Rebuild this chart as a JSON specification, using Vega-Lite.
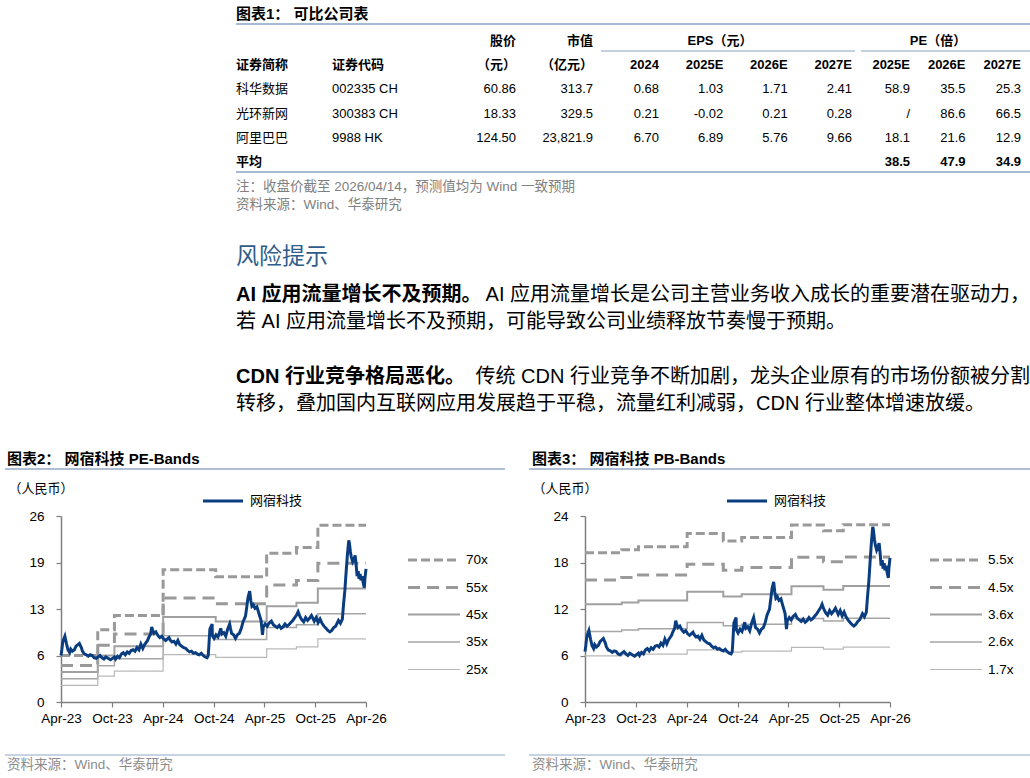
{
  "$schema": "https://vega.github.io/schema/vega-lite/v6.json",
  "background": "#ffffff",
  "padding": 0,
  "columns": 4,
  "spacing": 0,
  "bounds": "flush",
  "align": "each",
  "config": {
    "view": {"stroke": null},
    "axis": {"grid": false, "domainColor": "#7f7f7f", "domainWidth": 1.5, "tickColor": "#7f7f7f", "tickWidth": 1.2, "tickSize": 5, "labelFont": "Liberation Sans, Arial, sans-serif", "labelFontSize": 13.5, "labelColor": "#000000"},
    "legend": {"padding": 0}
  },
  "datasets": {
    "tbl": [
      {"row": "h1", "price": "股价", "mcap": "市值"},
      {"row": "h2", "name": "证券简称", "code": "证券代码", "price": "（元）", "mcap": "（亿元）", "e24": "2024", "e25": "2025E", "e26": "2026E", "e27": "2027E", "p25": "2025E", "p26": "2026E", "p27": "2027E"},
      {"row": "r1", "name": "科华数据", "code": "002335 CH", "price": "60.86", "mcap": "313.7", "e24": "0.68", "e25": "1.03", "e26": "1.71", "e27": "2.41", "p25": "58.9", "p26": "35.5", "p27": "25.3"},
      {"row": "r2", "name": "光环新网", "code": "300383 CH", "price": "18.33", "mcap": "329.5", "e24": "0.21", "e25": "-0.02", "e26": "0.21", "e27": "0.28", "p25": "/", "p26": "86.6", "p27": "66.5"},
      {"row": "r3", "name": "阿里巴巴", "code": "9988 HK", "price": "124.50", "mcap": "23,821.9", "e24": "6.70", "e25": "6.89", "e26": "5.76", "e27": "9.66", "p25": "18.1", "p26": "21.6", "p27": "12.9"},
      {"row": "avg", "name": "平均", "p25": "38.5", "p26": "47.9", "p27": "34.9"}
    ],
    "stock": [
      {"d": "2023-04-14", "p": 6.5}, {"d": "2023-04-17", "p": 7.3}, {"d": "2023-04-20", "p": 8.3}, {"d": "2023-04-24", "p": 8.8}, {"d": "2023-04-28", "p": 9.2},
      {"d": "2023-05-04", "p": 8.1}, {"d": "2023-05-09", "p": 7.3}, {"d": "2023-05-15", "p": 6.9}, {"d": "2023-05-19", "p": 7.4}, {"d": "2023-05-25", "p": 7.1},
      {"d": "2023-06-01", "p": 7.3}, {"d": "2023-06-07", "p": 7.8}, {"d": "2023-06-13", "p": 8.0}, {"d": "2023-06-19", "p": 8.2}, {"d": "2023-06-26", "p": 7.6},
      {"d": "2023-06-30", "p": 7.1}, {"d": "2023-07-07", "p": 6.7}, {"d": "2023-07-14", "p": 6.6}, {"d": "2023-07-21", "p": 6.4}, {"d": "2023-07-28", "p": 6.6},
      {"d": "2023-08-04", "p": 6.5}, {"d": "2023-08-11", "p": 6.2}, {"d": "2023-08-18", "p": 6.1}, {"d": "2023-08-25", "p": 6.3}, {"d": "2023-09-01", "p": 6.5},
      {"d": "2023-09-08", "p": 6.2}, {"d": "2023-09-15", "p": 6.0}, {"d": "2023-09-22", "p": 6.3}, {"d": "2023-10-09", "p": 5.9}, {"d": "2023-10-16", "p": 6.1},
      {"d": "2023-10-23", "p": 6.3}, {"d": "2023-10-27", "p": 6.0}, {"d": "2023-11-03", "p": 6.4}, {"d": "2023-11-10", "p": 6.2}, {"d": "2023-11-17", "p": 6.7},
      {"d": "2023-11-24", "p": 6.9}, {"d": "2023-12-01", "p": 6.6}, {"d": "2023-12-08", "p": 7.0}, {"d": "2023-12-15", "p": 6.8}, {"d": "2023-12-22", "p": 7.2},
      {"d": "2023-12-29", "p": 7.3}, {"d": "2024-01-05", "p": 7.1}, {"d": "2024-01-12", "p": 7.6}, {"d": "2024-01-19", "p": 7.3}, {"d": "2024-01-26", "p": 8.1},
      {"d": "2024-02-02", "p": 7.5}, {"d": "2024-02-08", "p": 8.0}, {"d": "2024-02-19", "p": 8.6}, {"d": "2024-02-23", "p": 9.0}, {"d": "2024-03-01", "p": 9.5},
      {"d": "2024-03-05", "p": 10.5}, {"d": "2024-03-08", "p": 10.1}, {"d": "2024-03-13", "p": 9.6}, {"d": "2024-03-20", "p": 9.8}, {"d": "2024-03-27", "p": 9.3},
      {"d": "2024-04-03", "p": 9.0}, {"d": "2024-04-10", "p": 9.2}, {"d": "2024-04-17", "p": 8.8}, {"d": "2024-04-24", "p": 8.6}, {"d": "2024-05-06", "p": 9.0},
      {"d": "2024-05-10", "p": 8.7}, {"d": "2024-05-17", "p": 8.4}, {"d": "2024-05-24", "p": 8.5}, {"d": "2024-05-31", "p": 8.1}, {"d": "2024-06-07", "p": 8.6},
      {"d": "2024-06-14", "p": 8.0}, {"d": "2024-06-21", "p": 7.8}, {"d": "2024-06-28", "p": 7.6}, {"d": "2024-07-05", "p": 7.5}, {"d": "2024-07-12", "p": 7.2},
      {"d": "2024-07-19", "p": 7.0}, {"d": "2024-07-26", "p": 7.1}, {"d": "2024-08-02", "p": 6.8}, {"d": "2024-08-09", "p": 6.9}, {"d": "2024-08-16", "p": 6.7},
      {"d": "2024-08-23", "p": 6.6}, {"d": "2024-08-30", "p": 6.8}, {"d": "2024-09-06", "p": 6.5}, {"d": "2024-09-13", "p": 6.3}, {"d": "2024-09-20", "p": 6.2},
      {"d": "2024-09-24", "p": 6.5}, {"d": "2024-09-26", "p": 7.6}, {"d": "2024-09-30", "p": 10.2}, {"d": "2024-10-08", "p": 10.9}, {"d": "2024-10-09", "p": 9.3},
      {"d": "2024-10-15", "p": 8.9}, {"d": "2024-10-22", "p": 9.4}, {"d": "2024-10-29", "p": 9.1}, {"d": "2024-11-05", "p": 9.9}, {"d": "2024-11-08", "p": 10.3},
      {"d": "2024-11-12", "p": 9.5}, {"d": "2024-11-19", "p": 9.7}, {"d": "2024-11-26", "p": 9.2}, {"d": "2024-12-03", "p": 10.2}, {"d": "2024-12-10", "p": 10.9},
      {"d": "2024-12-13", "p": 10.3}, {"d": "2024-12-17", "p": 9.6}, {"d": "2024-12-24", "p": 9.4}, {"d": "2024-12-31", "p": 8.9}, {"d": "2025-01-07", "p": 9.4},
      {"d": "2025-01-14", "p": 9.6}, {"d": "2025-01-21", "p": 10.3}, {"d": "2025-01-27", "p": 11.2}, {"d": "2025-02-05", "p": 12.0}, {"d": "2025-02-10", "p": 13.4},
      {"d": "2025-02-14", "p": 14.6}, {"d": "2025-02-20", "p": 15.5}, {"d": "2025-02-24", "p": 14.2}, {"d": "2025-02-28", "p": 13.4}, {"d": "2025-03-05", "p": 13.6},
      {"d": "2025-03-11", "p": 13.1}, {"d": "2025-03-18", "p": 13.3}, {"d": "2025-03-25", "p": 12.4}, {"d": "2025-04-02", "p": 11.4}, {"d": "2025-04-07", "p": 9.4},
      {"d": "2025-04-10", "p": 10.5}, {"d": "2025-04-17", "p": 10.9}, {"d": "2025-04-24", "p": 10.6}, {"d": "2025-04-30", "p": 11.0}, {"d": "2025-05-09", "p": 11.3},
      {"d": "2025-05-16", "p": 10.8}, {"d": "2025-05-23", "p": 10.6}, {"d": "2025-05-30", "p": 10.4}, {"d": "2025-06-06", "p": 10.7}, {"d": "2025-06-13", "p": 10.3},
      {"d": "2025-06-20", "p": 10.5}, {"d": "2025-06-27", "p": 10.9}, {"d": "2025-07-04", "p": 10.6}, {"d": "2025-07-11", "p": 10.8}, {"d": "2025-07-18", "p": 11.1},
      {"d": "2025-07-25", "p": 11.4}, {"d": "2025-08-01", "p": 11.8}, {"d": "2025-08-08", "p": 12.2}, {"d": "2025-08-13", "p": 12.6}, {"d": "2025-08-19", "p": 12.0},
      {"d": "2025-08-26", "p": 11.5}, {"d": "2025-09-02", "p": 11.2}, {"d": "2025-09-09", "p": 11.8}, {"d": "2025-09-16", "p": 11.4}, {"d": "2025-09-23", "p": 11.7},
      {"d": "2025-09-30", "p": 12.1}, {"d": "2025-10-10", "p": 11.3}, {"d": "2025-10-17", "p": 11.8}, {"d": "2025-10-24", "p": 11.1}, {"d": "2025-10-31", "p": 11.6},
      {"d": "2025-11-07", "p": 11.0}, {"d": "2025-11-14", "p": 10.6}, {"d": "2025-11-21", "p": 10.3}, {"d": "2025-11-28", "p": 10.0}, {"d": "2025-12-05", "p": 9.8},
      {"d": "2025-12-12", "p": 10.0}, {"d": "2025-12-19", "p": 10.4}, {"d": "2025-12-26", "p": 10.6}, {"d": "2026-01-05", "p": 11.4}, {"d": "2026-01-12", "p": 11.0},
      {"d": "2026-01-19", "p": 11.6}, {"d": "2026-01-23", "p": 13.5}, {"d": "2026-01-28", "p": 15.6}, {"d": "2026-02-02", "p": 18.4}, {"d": "2026-02-06", "p": 20.5},
      {"d": "2026-02-11", "p": 22.6}, {"d": "2026-02-13", "p": 22.3}, {"d": "2026-02-17", "p": 21.0}, {"d": "2026-02-20", "p": 20.3}, {"d": "2026-02-25", "p": 19.6},
      {"d": "2026-03-02", "p": 20.0}, {"d": "2026-03-06", "p": 20.5}, {"d": "2026-03-10", "p": 19.0}, {"d": "2026-03-13", "p": 17.6}, {"d": "2026-03-17", "p": 18.3},
      {"d": "2026-03-20", "p": 17.2}, {"d": "2026-03-24", "p": 17.9}, {"d": "2026-03-27", "p": 17.0}, {"d": "2026-03-31", "p": 17.6}, {"d": "2026-04-03", "p": 16.8},
      {"d": "2026-04-08", "p": 16.0}, {"d": "2026-04-10", "p": 17.2}, {"d": "2026-04-14", "p": 18.6}
    ],
    "pe": [
      {"d": "2023-04-14", "b": "70x", "v": 6.5}, {"d": "2023-04-14", "b": "55x", "v": 5.11}, {"d": "2023-04-14", "b": "45x", "v": 4.18}, {"d": "2023-04-14", "b": "35x", "v": 3.25}, {"d": "2023-04-14", "b": "25x", "v": 2.32},
      {"d": "2023-08-24", "b": "70x", "v": 10.1}, {"d": "2023-08-24", "b": "55x", "v": 7.94}, {"d": "2023-08-24", "b": "45x", "v": 6.49}, {"d": "2023-08-24", "b": "35x", "v": 5.05}, {"d": "2023-08-24", "b": "25x", "v": 3.61},
      {"d": "2023-10-23", "b": "70x", "v": 12.1}, {"d": "2023-10-23", "b": "55x", "v": 9.51}, {"d": "2023-10-23", "b": "45x", "v": 7.78}, {"d": "2023-10-23", "b": "35x", "v": 6.05}, {"d": "2023-10-23", "b": "25x", "v": 4.32},
      {"d": "2024-04-15", "b": "70x", "v": 18.5}, {"d": "2024-04-15", "b": "55x", "v": 14.54}, {"d": "2024-04-15", "b": "45x", "v": 11.89}, {"d": "2024-04-15", "b": "35x", "v": 9.25}, {"d": "2024-04-15", "b": "25x", "v": 6.61},
      {"d": "2024-10-21", "b": "70x", "v": 17.5}, {"d": "2024-10-21", "b": "55x", "v": 13.75}, {"d": "2024-10-21", "b": "45x", "v": 11.25}, {"d": "2024-10-21", "b": "35x", "v": 8.75}, {"d": "2024-10-21", "b": "25x", "v": 6.25},
      {"d": "2025-04-22", "b": "70x", "v": 20.8}, {"d": "2025-04-22", "b": "55x", "v": 16.34}, {"d": "2025-04-22", "b": "45x", "v": 13.37}, {"d": "2025-04-22", "b": "35x", "v": 10.4}, {"d": "2025-04-22", "b": "25x", "v": 7.43},
      {"d": "2025-08-07", "b": "70x", "v": 21.6}, {"d": "2025-08-07", "b": "55x", "v": 16.97}, {"d": "2025-08-07", "b": "45x", "v": 13.89}, {"d": "2025-08-07", "b": "35x", "v": 10.8}, {"d": "2025-08-07", "b": "25x", "v": 7.71},
      {"d": "2025-10-23", "b": "70x", "v": 24.7}, {"d": "2025-10-23", "b": "55x", "v": 19.41}, {"d": "2025-10-23", "b": "45x", "v": 15.88}, {"d": "2025-10-23", "b": "35x", "v": 12.35}, {"d": "2025-10-23", "b": "25x", "v": 8.82},
      {"d": "2026-04-14", "b": "70x", "v": 24.7}, {"d": "2026-04-14", "b": "55x", "v": 19.41}, {"d": "2026-04-14", "b": "45x", "v": 15.88}, {"d": "2026-04-14", "b": "35x", "v": 12.35}, {"d": "2026-04-14", "b": "25x", "v": 8.82}
    ],
    "pb": [
      {"d": "2023-04-14", "b": "5.5x", "v": 19.25}, {"d": "2023-04-14", "b": "4.5x", "v": 15.75}, {"d": "2023-04-14", "b": "3.6x", "v": 12.6}, {"d": "2023-04-14", "b": "2.6x", "v": 9.1}, {"d": "2023-04-14", "b": "1.7x", "v": 5.95},
      {"d": "2023-08-24", "b": "5.5x", "v": 19.64}, {"d": "2023-08-24", "b": "4.5x", "v": 16.07}, {"d": "2023-08-24", "b": "3.6x", "v": 12.85}, {"d": "2023-08-24", "b": "2.6x", "v": 9.28}, {"d": "2023-08-24", "b": "1.7x", "v": 6.07},
      {"d": "2023-10-23", "b": "5.5x", "v": 20.02}, {"d": "2023-10-23", "b": "4.5x", "v": 16.38}, {"d": "2023-10-23", "b": "3.6x", "v": 13.1}, {"d": "2023-10-23", "b": "2.6x", "v": 9.46}, {"d": "2023-10-23", "b": "1.7x", "v": 6.19},
      {"d": "2024-04-15", "b": "5.5x", "v": 21.73}, {"d": "2024-04-15", "b": "4.5x", "v": 17.78}, {"d": "2024-04-15", "b": "3.6x", "v": 14.22}, {"d": "2024-04-15", "b": "2.6x", "v": 10.27}, {"d": "2024-04-15", "b": "1.7x", "v": 6.72},
      {"d": "2024-08-23", "b": "5.5x", "v": 20.79}, {"d": "2024-08-23", "b": "4.5x", "v": 17.01}, {"d": "2024-08-23", "b": "3.6x", "v": 13.61}, {"d": "2024-08-23", "b": "2.6x", "v": 9.83}, {"d": "2024-08-23", "b": "1.7x", "v": 6.43},
      {"d": "2024-10-28", "b": "5.5x", "v": 21.23}, {"d": "2024-10-28", "b": "4.5x", "v": 17.37}, {"d": "2024-10-28", "b": "3.6x", "v": 13.9}, {"d": "2024-10-28", "b": "2.6x", "v": 10.04}, {"d": "2024-10-28", "b": "1.7x", "v": 6.56},
      {"d": "2025-04-25", "b": "5.5x", "v": 22.83}, {"d": "2025-04-25", "b": "4.5x", "v": 18.68}, {"d": "2025-04-25", "b": "3.6x", "v": 14.94}, {"d": "2025-04-25", "b": "2.6x", "v": 10.79}, {"d": "2025-04-25", "b": "1.7x", "v": 7.06},
      {"d": "2025-08-18", "b": "5.5x", "v": 22.11}, {"d": "2025-08-18", "b": "4.5x", "v": 18.09}, {"d": "2025-08-18", "b": "3.6x", "v": 14.47}, {"d": "2025-08-18", "b": "2.6x", "v": 10.45}, {"d": "2025-08-18", "b": "1.7x", "v": 6.83},
      {"d": "2025-10-28", "b": "5.5x", "v": 22.88}, {"d": "2025-10-28", "b": "4.5x", "v": 18.72}, {"d": "2025-10-28", "b": "3.6x", "v": 14.98}, {"d": "2025-10-28", "b": "2.6x", "v": 10.82}, {"d": "2025-10-28", "b": "1.7x", "v": 7.07},
      {"d": "2026-04-14", "b": "5.5x", "v": 22.88}, {"d": "2026-04-14", "b": "4.5x", "v": 18.72}, {"d": "2026-04-14", "b": "3.6x", "v": 14.98}, {"d": "2026-04-14", "b": "2.6x", "v": 10.82}, {"d": "2026-04-14", "b": "1.7x", "v": 7.07}
    ]
  },
  "concat": [
    {"width": 61, "height": 448, "data": {"values": []}, "mark": "point"},
    {"width": 175, "height": 448, "data": {"values": []}, "mark": "point"},
    {
      "width": 349,
      "height": 448,
      "resolve": {"scale": {"x": "independent", "y": "independent"}},
      "layer": [
        {
          "data": {"values": [{"id": "t", "t": "图表1：  可比公司表"}]},
          "mark": {"type": "text", "align": "left", "baseline": "middle", "font": "Liberation Sans, Noto Sans CJK SC, sans-serif", "fontSize": 15, "fontWeight": "bold", "color": "#000000"},
          "encoding": {
            "text": {"field": "t", "type": "nominal"},
            "x": {"datum": 0, "type": "quantitative", "scale": {"domain": [0, 1], "range": [0, 794]}, "axis": null},
            "y": {"field": "id", "type": "nominal", "scale": {"type": "point", "range": [14, 14], "padding": 0}, "axis": null}
          }
        },
        {
          "data": {"values": [{"id": "a"}, {"id": "b"}]},
          "mark": {"type": "rule", "color": "#8AA3C4", "strokeWidth": 1.5},
          "encoding": {
            "x": {"datum": 0, "type": "quantitative", "scale": {"domain": [0, 1], "range": [0, 794]}, "axis": null},
            "x2": {"datum": 1},
            "y": {"field": "id", "type": "nominal", "scale": {"type": "point", "domain": ["a", "b"], "range": [24, 172], "padding": 0}, "axis": null}
          }
        },
        {
          "data": {"values": [{"id": "u"}]},
          "mark": {"type": "rule", "color": "#8AA3C4", "strokeWidth": 1.2},
          "encoding": {
            "x": {"datum": 0, "type": "quantitative", "scale": {"domain": [0, 1], "range": [365, 619]}, "axis": null},
            "x2": {"datum": 1},
            "y": {"field": "id", "type": "nominal", "scale": {"type": "point", "range": [51, 51], "padding": 0}, "axis": null}
          }
        },
        {
          "data": {"values": [{"id": "u"}]},
          "mark": {"type": "rule", "color": "#8AA3C4", "strokeWidth": 1.2},
          "encoding": {
            "x": {"datum": 0, "type": "quantitative", "scale": {"domain": [0, 1], "range": [625, 794]}, "axis": null},
            "x2": {"datum": 1},
            "y": {"field": "id", "type": "nominal", "scale": {"type": "point", "range": [51, 51], "padding": 0}, "axis": null}
          }
        },
        {
          "data": {"values": [{"g": "EPS（元）"}, {"g": "PE（倍）"}]},
          "mark": {"type": "text", "align": "center", "baseline": "middle", "font": "Liberation Sans, Noto Sans CJK SC, sans-serif", "fontSize": 13, "fontWeight": "bold", "color": "#000000"},
          "encoding": {
            "text": {"field": "g", "type": "nominal"},
            "x": {"field": "g", "type": "nominal", "scale": {"type": "point", "domain": ["EPS（元）", "PE（倍）"], "range": [484, 702], "padding": 0}, "axis": null},
            "y": {"datum": "h1", "type": "nominal", "scale": {"type": "point", "domain": ["h1"], "range": [41, 41], "padding": 0}, "axis": null}
          }
        },
        {
          "data": {"name": "tbl"},
          "transform": [{"fold": ["name", "code"], "as": ["col", "val"]}, {"filter": "isValid(datum.val)"}],
          "encoding": {
            "x": {"field": "col", "type": "nominal", "scale": {"type": "point", "domain": ["name", "code"], "range": [0, 96], "padding": 0}, "axis": null},
            "y": {"field": "row", "type": "nominal", "scale": {"type": "point", "domain": ["h1", "h2", "r1", "r2", "r3", "avg"], "range": [41, 162], "padding": 0}, "axis": null},
            "text": {"field": "val", "type": "nominal"}
          },
          "layer": [
            {"transform": [{"filter": {"field": "row", "oneOf": ["h1", "h2", "avg"]}}], "mark": {"type": "text", "align": "left", "baseline": "middle", "font": "Liberation Sans, Noto Sans CJK SC, sans-serif", "fontSize": 13, "fontWeight": "bold", "color": "#000000"}},
            {"transform": [{"filter": {"field": "row", "oneOf": ["r1", "r2", "r3"]}}], "mark": {"type": "text", "align": "left", "baseline": "middle", "font": "Liberation Sans, Noto Sans CJK SC, sans-serif", "fontSize": 13, "color": "#000000"}}
          ]
        },
        {
          "data": {"name": "tbl"},
          "transform": [{"fold": ["price", "mcap"], "as": ["col", "val"]}, {"filter": "isValid(datum.val)"}],
          "encoding": {
            "x": {"field": "col", "type": "nominal", "scale": {"type": "point", "domain": ["price", "mcap"], "range": [280, 357], "padding": 0}, "axis": null},
            "y": {"field": "row", "type": "nominal", "scale": {"type": "point", "domain": ["h1", "h2", "r1", "r2", "r3", "avg"], "range": [41, 162], "padding": 0}, "axis": null},
            "text": {"field": "val", "type": "nominal"}
          },
          "layer": [
            {"transform": [{"filter": {"field": "row", "oneOf": ["h1", "h2", "avg"]}}], "mark": {"type": "text", "align": "right", "baseline": "middle", "font": "Liberation Sans, Noto Sans CJK SC, sans-serif", "fontSize": 13, "fontWeight": "bold", "color": "#000000"}},
            {"transform": [{"filter": {"field": "row", "oneOf": ["r1", "r2", "r3"]}}], "mark": {"type": "text", "align": "right", "baseline": "middle", "font": "Liberation Sans, Noto Sans CJK SC, sans-serif", "fontSize": 13, "color": "#000000"}}
          ]
        },
        {
          "data": {"name": "tbl"},
          "transform": [{"fold": ["e24", "e25", "e26", "e27"], "as": ["col", "val"]}, {"filter": "isValid(datum.val)"}],
          "encoding": {
            "x": {"field": "col", "type": "nominal", "scale": {"type": "point", "domain": ["e24", "e25", "e26", "e27"], "range": [423, 616], "padding": 0}, "axis": null},
            "y": {"field": "row", "type": "nominal", "scale": {"type": "point", "domain": ["h1", "h2", "r1", "r2", "r3", "avg"], "range": [41, 162], "padding": 0}, "axis": null},
            "text": {"field": "val", "type": "nominal"}
          },
          "layer": [
            {"transform": [{"filter": {"field": "row", "oneOf": ["h1", "h2", "avg"]}}], "mark": {"type": "text", "align": "right", "baseline": "middle", "font": "Liberation Sans, Noto Sans CJK SC, sans-serif", "fontSize": 13, "fontWeight": "bold", "color": "#000000"}},
            {"transform": [{"filter": {"field": "row", "oneOf": ["r1", "r2", "r3"]}}], "mark": {"type": "text", "align": "right", "baseline": "middle", "font": "Liberation Sans, Noto Sans CJK SC, sans-serif", "fontSize": 13, "color": "#000000"}}
          ]
        },
        {
          "data": {"name": "tbl"},
          "transform": [{"fold": ["p25", "p26", "p27"], "as": ["col", "val"]}, {"filter": "isValid(datum.val)"}],
          "encoding": {
            "x": {"field": "col", "type": "nominal", "scale": {"type": "point", "domain": ["p25", "p26", "p27"], "range": [674, 785], "padding": 0}, "axis": null},
            "y": {"field": "row", "type": "nominal", "scale": {"type": "point", "domain": ["h1", "h2", "r1", "r2", "r3", "avg"], "range": [41, 162], "padding": 0}, "axis": null},
            "text": {"field": "val", "type": "nominal"}
          },
          "layer": [
            {"transform": [{"filter": {"field": "row", "oneOf": ["h1", "h2", "avg"]}}], "mark": {"type": "text", "align": "right", "baseline": "middle", "font": "Liberation Sans, Noto Sans CJK SC, sans-serif", "fontSize": 13, "fontWeight": "bold", "color": "#000000"}},
            {"transform": [{"filter": {"field": "row", "oneOf": ["r1", "r2", "r3"]}}], "mark": {"type": "text", "align": "right", "baseline": "middle", "font": "Liberation Sans, Noto Sans CJK SC, sans-serif", "fontSize": 13, "color": "#000000"}}
          ]
        },
        {
          "data": {"values": [{"id": "n1", "t": "注：收盘价截至 2026/04/14，预测值均为 Wind 一致预期"}, {"id": "n2", "t": "资料来源：Wind、华泰研究"}]},
          "mark": {"type": "text", "align": "left", "baseline": "middle", "font": "Liberation Sans, Noto Sans CJK SC, sans-serif", "fontSize": 13.5, "color": "#808080"},
          "encoding": {
            "text": {"field": "t", "type": "nominal"},
            "x": {"datum": 0, "type": "quantitative", "scale": {"domain": [0, 1], "range": [0, 794]}, "axis": null},
            "y": {"field": "id", "type": "nominal", "scale": {"type": "point", "domain": ["n1", "n2"], "range": [187, 205], "padding": 0}, "axis": null}
          }
        },
        {
          "data": {"values": [{"id": "h", "t": "风险提示"}]},
          "mark": {"type": "text", "align": "left", "baseline": "middle", "font": "Noto Sans CJK SC, sans-serif", "fontSize": 23, "color": "#2F5C8A"},
          "encoding": {
            "text": {"field": "t", "type": "nominal"},
            "x": {"datum": 0, "type": "quantitative", "scale": {"domain": [0, 1], "range": [0, 794]}, "axis": null},
            "y": {"field": "id", "type": "nominal", "scale": {"type": "point", "range": [257, 257], "padding": 0}, "axis": null}
          }
        },
        {
          "data": {"values": [{"id": "p1", "t": "AI 应用流量增长不及预期。"}, {"id": "p3", "t": "CDN 行业竞争格局恶化。"}]},
          "mark": {"type": "text", "align": "left", "baseline": "middle", "font": "Liberation Sans, Noto Sans CJK SC, sans-serif", "fontSize": 20, "fontWeight": "bold", "color": "#000000"},
          "encoding": {
            "text": {"field": "t", "type": "nominal"},
            "x": {"datum": 0, "type": "quantitative", "scale": {"domain": [0, 1], "range": [0, 794]}, "axis": null},
            "y": {"field": "id", "type": "nominal", "scale": {"type": "point", "domain": ["p1", "p3"], "range": [295, 377], "padding": 0}, "axis": null}
          }
        },
        {
          "data": {"values": [{"id": "p1", "t": "AI 应用流量增长是公司主营业务收入成长的重要潜在驱动力，"}, {"id": "p3", "t": "传统 CDN 行业竞争不断加剧，龙头企业原有的市场份额被分割"}]},
          "mark": {"type": "text", "align": "right", "baseline": "middle", "font": "Liberation Sans, Noto Sans CJK SC, sans-serif", "fontSize": 20, "color": "#000000"},
          "encoding": {
            "text": {"field": "t", "type": "nominal"},
            "x": {"datum": 1, "type": "quantitative", "scale": {"domain": [0, 1], "range": [0, 794]}, "axis": null},
            "y": {"field": "id", "type": "nominal", "scale": {"type": "point", "domain": ["p1", "p3"], "range": [295, 377], "padding": 0}, "axis": null}
          }
        },
        {
          "data": {"values": [{"id": "p2", "t": "若 AI 应用流量增长不及预期，可能导致公司业绩释放节奏慢于预期。"}, {"id": "p4", "t": "转移，叠加国内互联网应用发展趋于平稳，流量红利减弱，CDN 行业整体增速放缓。"}]},
          "mark": {"type": "text", "align": "left", "baseline": "middle", "font": "Liberation Sans, Noto Sans CJK SC, sans-serif", "fontSize": 20, "color": "#000000"},
          "encoding": {
            "text": {"field": "t", "type": "nominal"},
            "x": {"datum": 0, "type": "quantitative", "scale": {"domain": [0, 1], "range": [0, 794]}, "axis": null},
            "y": {"field": "id", "type": "nominal", "scale": {"type": "point", "domain": ["p2", "p4"], "range": [322, 404], "padding": 0}, "axis": null}
          }
        }
      ]
    },
    {"width": 445, "height": 448, "data": {"values": []}, "mark": "point"},

    {"width": 61, "height": 68, "data": {"values": []}, "mark": "point"},
    {
      "width": 175,
      "height": 68,
      "layer": [
        {
          "data": {"values": [{"k": "r"}]},
          "mark": {"type": "rule", "color": "#AFC0D6", "strokeWidth": 2},
          "encoding": {
            "x": {"datum": 0, "type": "quantitative", "scale": {"domain": [0, 1], "range": [-56, 444]}, "axis": null},
            "x2": {"datum": 1},
            "y": {"field": "k", "type": "nominal", "scale": {"type": "point", "domain": ["t", "r"], "range": [11, 21], "padding": 0}, "axis": null}
          }
        },
        {
          "data": {"values": [{"k": "t", "s": "图表2：  网宿科技 PE-Bands"}]},
          "mark": {"type": "text", "align": "left", "baseline": "middle", "dx": 2, "font": "Liberation Sans, Noto Sans CJK SC, sans-serif", "fontSize": 15, "fontWeight": "bold", "color": "#000000"},
          "encoding": {
            "x": {"datum": 0, "type": "quantitative"},
            "y": {"field": "k", "type": "nominal"},
            "text": {"field": "s", "type": "nominal"}
          }
        }
      ]
    },
    {"width": 349, "height": 68, "data": {"values": []}, "mark": "point"},
    {
      "width": 445,
      "height": 68,
      "layer": [
        {
          "data": {"values": [{"k": "r"}]},
          "mark": {"type": "rule", "color": "#AFC0D6", "strokeWidth": 2},
          "encoding": {
            "x": {"datum": 0, "type": "quantitative", "scale": {"domain": [0, 1], "range": [-56, 445]}, "axis": null},
            "x2": {"datum": 1},
            "y": {"field": "k", "type": "nominal", "scale": {"type": "point", "domain": ["t", "r"], "range": [11, 21], "padding": 0}, "axis": null}
          }
        },
        {
          "data": {"values": [{"k": "t", "s": "图表3：  网宿科技 PB-Bands"}]},
          "mark": {"type": "text", "align": "left", "baseline": "middle", "dx": 3, "font": "Liberation Sans, Noto Sans CJK SC, sans-serif", "fontSize": 15, "fontWeight": "bold", "color": "#000000"},
          "encoding": {
            "x": {"datum": 0, "type": "quantitative"},
            "y": {"field": "k", "type": "nominal"},
            "text": {"field": "s", "type": "nominal"}
          }
        }
      ]
    },

    {"width": 61, "height": 186, "data": {"values": []}, "mark": "point"},
    {
      "width": 175,
      "height": 186,
      "resolve": {"scale": {"color": "independent", "strokeDash": "independent", "strokeWidth": "independent"}},
      "layer": [
        {
          "data": {"name": "pe"},
          "mark": {"type": "line", "interpolate": "step-after"},
          "encoding": {
            "x": {"field": "d", "type": "temporal", "scale": {"type": "utc", "nice": false, "range": [0, 305], "domain": [{"year": 2023, "month": 4, "date": 14, "utc": true}, {"year": 2026, "month": 4, "date": 14, "utc": true}]},
              "axis": {"title": null, "format": "%b-%y", "tickCount": 20, "labelFlush": false, "labelOverlap": false, "labelPadding": 4,
                "values": [{"year": 2023, "month": 4, "date": 14, "utc": true}, {"year": 2023, "month": 10, "date": 14, "utc": true}, {"year": 2024, "month": 4, "date": 14, "utc": true}, {"year": 2024, "month": 10, "date": 14, "utc": true}, {"year": 2025, "month": 4, "date": 14, "utc": true}, {"year": 2025, "month": 10, "date": 14, "utc": true}, {"year": 2026, "month": 4, "date": 14, "utc": true}]}},
            "y": {"field": "v", "type": "quantitative", "scale": {"domain": [0, 26], "nice": false},
              "axis": {"values": [0, 6.5, 13, 19.5, 26], "tickCount": 20, "labelExpr": "floor(datum.value)", "labelPadding": 12, "title": "（人民币）", "titleAngle": 0, "titleAlign": "left", "titleBaseline": "middle", "titleX": -53, "titleY": -28, "titleFont": "Liberation Sans, Noto Sans CJK SC, sans-serif", "titleFontSize": 13, "titleFontWeight": "normal", "titleColor": "#000000"}},
            "color": {"field": "b", "type": "nominal", "scale": {"domain": ["70x", "55x", "45x", "35x", "25x"], "range": ["#999999", "#999999", "#a0a0a0", "#a6a6a6", "#b8b8b8"]},
              "legend": {"orient": "none", "legendX": 361.5, "legendY": 32.5, "title": null, "direction": "vertical", "symbolType": "M-2.6,0H2.6", "symbolSize": 400, "labelOffset": 20.5, "rowPadding": 9.5, "labelFont": "Liberation Sans, Arial, sans-serif", "labelFontSize": 13.5, "labelColor": "#000000", "padding": 0}},
            "strokeDash": {"field": "b", "type": "nominal", "scale": {"domain": ["70x", "55x", "45x", "35x", "25x"], "range": [[9, 4], [12, 7], [1, 0], [1, 0], [1, 0]]},
              "legend": {"orient": "none", "legendX": 361.5, "legendY": 32.5, "title": null, "direction": "vertical", "symbolType": "M-2.6,0H2.6", "symbolSize": 400, "labelOffset": 20.5, "rowPadding": 9.5, "labelFont": "Liberation Sans, Arial, sans-serif", "labelFontSize": 13.5, "labelColor": "#000000", "padding": 0}},
            "strokeWidth": {"field": "b", "type": "nominal", "scale": {"type": "ordinal", "domain": ["70x", "55x", "45x", "35x", "25x"], "range": [3, 3, 2, 1.5, 1.2]},
              "legend": {"orient": "none", "legendX": 361.5, "legendY": 32.5, "title": null, "direction": "vertical", "symbolType": "M-2.6,0H2.6", "symbolSize": 400, "labelOffset": 20.5, "rowPadding": 9.5, "labelFont": "Liberation Sans, Arial, sans-serif", "labelFontSize": 13.5, "labelColor": "#000000", "padding": 0}}
          }
        },
        {
          "data": {"name": "stock"},
          "mark": {"type": "line", "strokeWidth": 3},
          "encoding": {
            "x": {"field": "d", "type": "temporal"},
            "y": {"field": "p", "type": "quantitative"},
            "color": {"datum": "网宿科技", "type": "nominal", "scale": {"domain": ["网宿科技"], "range": ["#0A3D80"]},
              "legend": {"orient": "none", "legendX": 150.5, "legendY": -26.5, "title": null, "symbolType": "M-2,0H2", "symbolSize": 400, "symbolStrokeWidth": 3, "labelOffset": 15.5, "labelFont": "Noto Sans CJK SC, sans-serif", "labelFontSize": 13, "labelColor": "#000000", "padding": 0}}
          }
        }
      ]
    },
    {"width": 349, "height": 186, "data": {"values": []}, "mark": "point"},
    {
      "width": 445,
      "height": 186,
      "resolve": {"scale": {"color": "independent", "strokeDash": "independent", "strokeWidth": "independent"}},
      "layer": [
        {
          "data": {"name": "pb"},
          "mark": {"type": "line", "interpolate": "step-after"},
          "encoding": {
            "x": {"field": "d", "type": "temporal", "scale": {"type": "utc", "nice": false, "range": [0, 305], "domain": [{"year": 2023, "month": 4, "date": 14, "utc": true}, {"year": 2026, "month": 4, "date": 14, "utc": true}]},
              "axis": {"title": null, "format": "%b-%y", "tickCount": 20, "labelFlush": false, "labelOverlap": false, "labelPadding": 4,
                "values": [{"year": 2023, "month": 4, "date": 14, "utc": true}, {"year": 2023, "month": 10, "date": 14, "utc": true}, {"year": 2024, "month": 4, "date": 14, "utc": true}, {"year": 2024, "month": 10, "date": 14, "utc": true}, {"year": 2025, "month": 4, "date": 14, "utc": true}, {"year": 2025, "month": 10, "date": 14, "utc": true}, {"year": 2026, "month": 4, "date": 14, "utc": true}]}},
            "y": {"field": "v", "type": "quantitative", "scale": {"domain": [0, 24], "nice": false},
              "axis": {"values": [0, 6, 12, 18, 24], "tickCount": 20, "labelPadding": 12, "title": "（人民币）", "titleAngle": 0, "titleAlign": "left", "titleBaseline": "middle", "titleX": -53, "titleY": -28, "titleFont": "Liberation Sans, Noto Sans CJK SC, sans-serif", "titleFontSize": 13, "titleFontWeight": "normal", "titleColor": "#000000"}},
            "color": {"field": "b", "type": "nominal", "scale": {"domain": ["5.5x", "4.5x", "3.6x", "2.6x", "1.7x"], "range": ["#999999", "#999999", "#a0a0a0", "#a6a6a6", "#b8b8b8"]},
              "legend": {"orient": "none", "legendX": 359.5, "legendY": 32.5, "title": null, "direction": "vertical", "symbolType": "M-2.6,0H2.6", "symbolSize": 400, "labelOffset": 20.5, "rowPadding": 9.5, "labelFont": "Liberation Sans, Arial, sans-serif", "labelFontSize": 13.5, "labelColor": "#000000", "padding": 0}},
            "strokeDash": {"field": "b", "type": "nominal", "scale": {"domain": ["5.5x", "4.5x", "3.6x", "2.6x", "1.7x"], "range": [[9, 4], [12, 7], [1, 0], [1, 0], [1, 0]]},
              "legend": {"orient": "none", "legendX": 359.5, "legendY": 32.5, "title": null, "direction": "vertical", "symbolType": "M-2.6,0H2.6", "symbolSize": 400, "labelOffset": 20.5, "rowPadding": 9.5, "labelFont": "Liberation Sans, Arial, sans-serif", "labelFontSize": 13.5, "labelColor": "#000000", "padding": 0}},
            "strokeWidth": {"field": "b", "type": "nominal", "scale": {"type": "ordinal", "domain": ["5.5x", "4.5x", "3.6x", "2.6x", "1.7x"], "range": [3, 3, 2, 1.5, 1.2]},
              "legend": {"orient": "none", "legendX": 359.5, "legendY": 32.5, "title": null, "direction": "vertical", "symbolType": "M-2.6,0H2.6", "symbolSize": 400, "labelOffset": 20.5, "rowPadding": 9.5, "labelFont": "Liberation Sans, Arial, sans-serif", "labelFontSize": 13.5, "labelColor": "#000000", "padding": 0}}
          }
        },
        {
          "data": {"name": "stock"},
          "mark": {"type": "line", "strokeWidth": 3},
          "encoding": {
            "x": {"field": "d", "type": "temporal"},
            "y": {"field": "p", "type": "quantitative"},
            "color": {"datum": "网宿科技", "type": "nominal", "scale": {"domain": ["网宿科技"], "range": ["#0A3D80"]},
              "legend": {"orient": "none", "legendX": 150.5, "legendY": -26.5, "title": null, "symbolType": "M-2,0H2", "symbolSize": 400, "symbolStrokeWidth": 3, "labelOffset": 15.5, "labelFont": "Noto Sans CJK SC, sans-serif", "labelFontSize": 13, "labelColor": "#000000", "padding": 0}}
          }
        }
      ]
    },

    {"width": 61, "height": 76, "data": {"values": []}, "mark": "point"},
    {
      "width": 175,
      "height": 76,
      "layer": [
        {
          "data": {"values": [{"k": "r"}]},
          "mark": {"type": "rule", "color": "#C6D3E3", "strokeWidth": 2},
          "encoding": {
            "x": {"datum": 0, "type": "quantitative", "scale": {"domain": [0, 1], "range": [-56, 444]}, "axis": null},
            "x2": {"datum": 1},
            "y": {"field": "k", "type": "nominal", "scale": {"type": "point", "domain": ["r", "t"], "range": [53, 63], "padding": 0}, "axis": null}
          }
        },
        {
          "data": {"values": [{"k": "t", "s": "资料来源：Wind、华泰研究"}]},
          "mark": {"type": "text", "align": "left", "baseline": "middle", "dx": 2, "font": "Liberation Sans, Noto Sans CJK SC, sans-serif", "fontSize": 13.5, "color": "#8C8C8C"},
          "encoding": {
            "x": {"datum": 0, "type": "quantitative"},
            "y": {"field": "k", "type": "nominal"},
            "text": {"field": "s", "type": "nominal"}
          }
        }
      ]
    },
    {"width": 349, "height": 76, "data": {"values": []}, "mark": "point"},
    {
      "width": 445,
      "height": 76,
      "layer": [
        {
          "data": {"values": [{"k": "r"}]},
          "mark": {"type": "rule", "color": "#C6D3E3", "strokeWidth": 2},
          "encoding": {
            "x": {"datum": 0, "type": "quantitative", "scale": {"domain": [0, 1], "range": [-56, 445]}, "axis": null},
            "x2": {"datum": 1},
            "y": {"field": "k", "type": "nominal", "scale": {"type": "point", "domain": ["r", "t"], "range": [53, 63], "padding": 0}, "axis": null}
          }
        },
        {
          "data": {"values": [{"k": "t", "s": "资料来源：Wind、华泰研究"}]},
          "mark": {"type": "text", "align": "left", "baseline": "middle", "dx": 3, "font": "Liberation Sans, Noto Sans CJK SC, sans-serif", "fontSize": 13.5, "color": "#8C8C8C"},
          "encoding": {
            "x": {"datum": 0, "type": "quantitative"},
            "y": {"field": "k", "type": "nominal"},
            "text": {"field": "s", "type": "nominal"}
          }
        }
      ]
    }
  ]
}
